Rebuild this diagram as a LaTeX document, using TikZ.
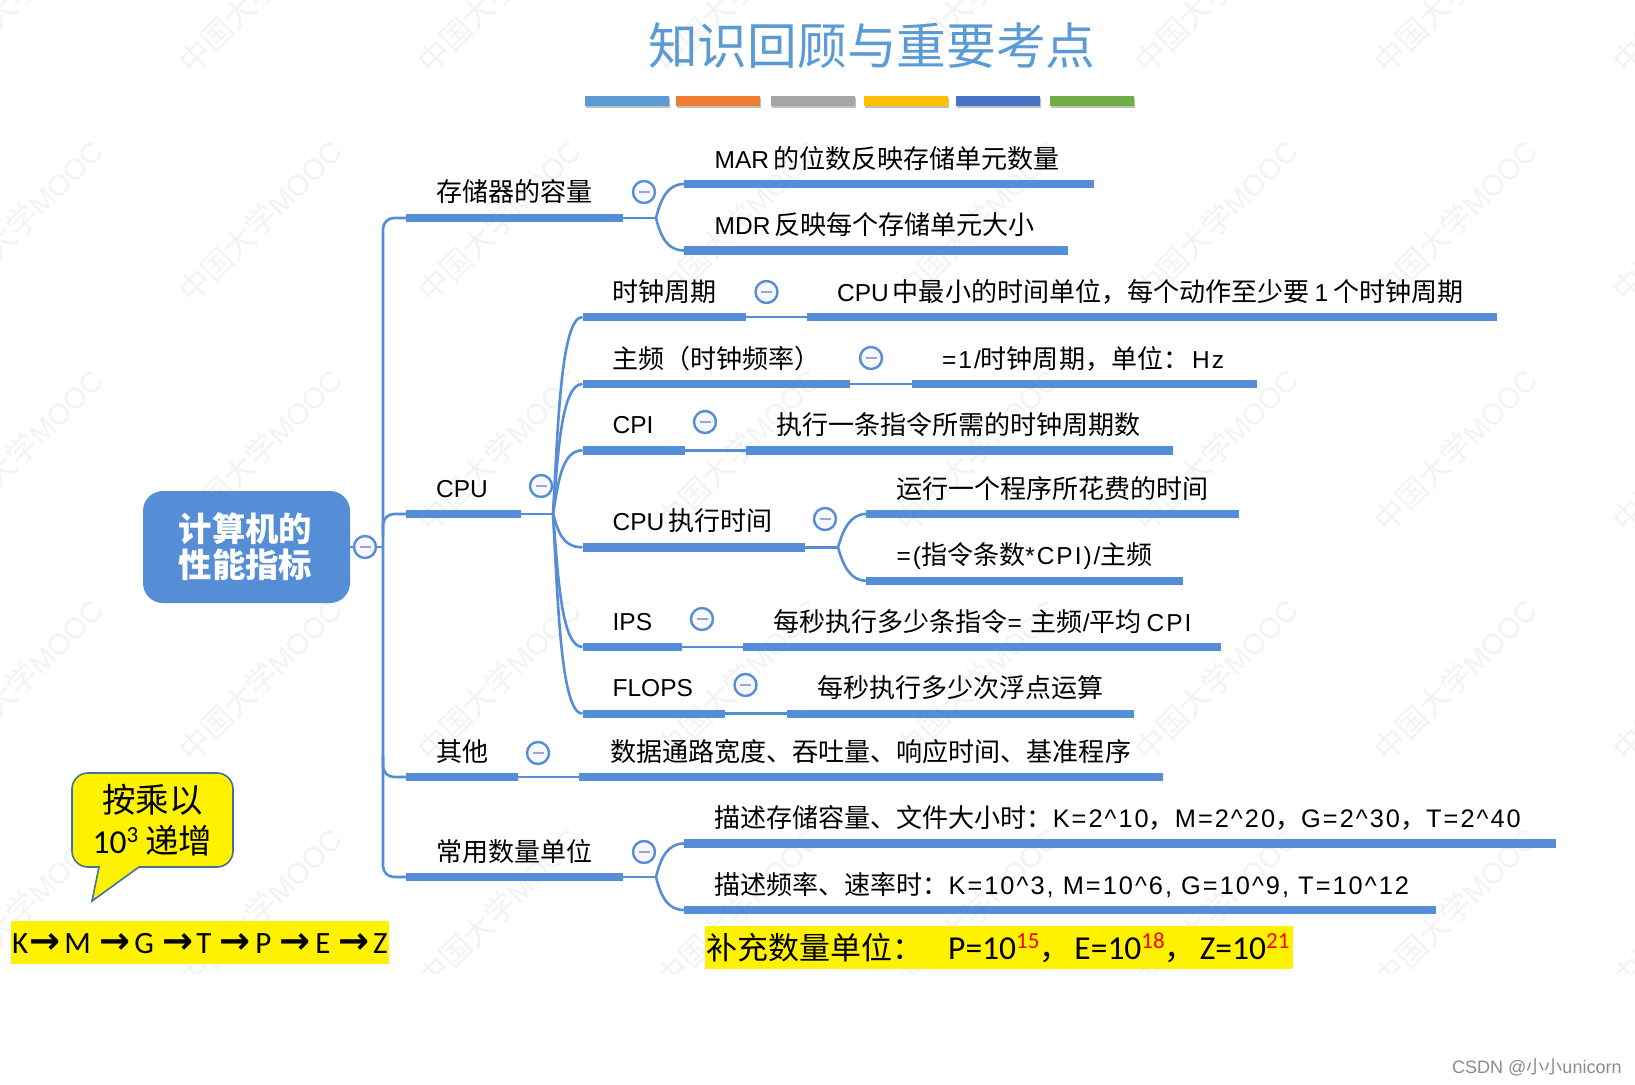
\documentclass[tikz,border=0pt]{standalone}
\usepackage{fontspec}
\setmainfont{Liberation Sans}
\newfontfamily\cjkf[Scale=1.063]{Noto Sans CJK SC}
\newfontfamily\cjkp{Noto Sans CJK SC}
\newfontfamily\carl{Carlito}
\newfontfamily\arr{DejaVu Sans}
\newfontfamily\lsp[LetterSpace=8]{Liberation Sans}
\newfontfamily\lspb[Scale=1.035,LetterSpace=8]{Liberation Sans}
\newcommand{\C}[1]{{\cjkf #1}}
\newcommand{\LS}[1]{{\lsp #1}}
\newcommand{\LB}[1]{{\lspb #1}}
\newcommand{\gp}{\hspace{4pt}}
\newcommand{\ca}{\textasciicircum}
\newcommand{\Ar}[1]{\hspace{#1pt}{\fontsize{37}{37}\selectfont\arr\bfseries →}}
\newcommand{\Gp}[1]{\hspace{#1pt}}
\newcommand{\Sp}[1]{\raisebox{11pt}{\fontsize{23}{23}\selectfont\textcolor{red}{#1}}}
\definecolor{mm}{HTML}{558DD6}
\definecolor{mark}{HTML}{9AA6D6}
\definecolor{wm}{HTML}{F3F3F3}
\definecolor{ttl}{HTML}{5B9BD5}
\definecolor{cb}{HTML}{41719C}
\tikzset{
  x=1pt,y=-1pt,
  txt/.style={anchor=base west,inner sep=0pt,font=\fontsize{24.5}{28}\selectfont,text=black},
  barn/.style={anchor=west,fill=mm,inner sep=0pt,minimum height=8.4pt,draw=none},
  link/.style={draw=mm,line width=2.6pt},
  fold/.style={circle,draw=mm,line width=2.4pt,fill=blue!3,minimum size=22pt,inner sep=0pt,
    text=mark,font=\fontsize{10}{10}\selectfont},
  deco/.style={anchor=north west,inner sep=0pt,minimum height=10pt,draw=none},
  wmk/.style={rotate=45,text=wm,inner sep=0pt,font=\fontsize{29}{29}\selectfont},
  yel/.style={anchor=north west,fill=yellow,inner sep=0pt,draw=none},
}
\newcommand{\mn}{\rule[0pt]{11pt}{2.6pt}}
\newcommand{\Barr}[4]{\pgfmathsetmacro{\wdd}{#3-#2}\node[barn,minimum width=\wdd pt] (#1) at (#2,#4) {};}
\begin{document}
\begin{tikzpicture}
\useasboundingbox (0,0) rectangle (1635,1084);
\fill[white] (0,0) rectangle (1635,1084);
% watermark
\begin{scope}
\clip (0,0) rectangle (1635,973);
\foreach \i in {-1,...,6}{\foreach \j in {-1,...,3}{
  \node[wmk] (wm\i x\j) at ({260+239*\i},{221+229.3*\j}) {\C{中国大学}MOOC};
}}
\end{scope}
% title
\node[anchor=base west,inner sep=0pt,text=ttl,font=\fontsize{49.7}{50}\selectfont] (title) at (648,64) {\cjkp 知识回顾与重要考点};
% colour strips
\foreach \a/\b/\c/\n in {585/669/5B9BD5/a,676/760/ED7D31/b,771/855/A5A5A5/c,864/948/FFC000/d,956/1040/4472C4/e,1050/1134/70AD47/f}{
  \fill[black!25] (\a+1,98) rectangle (\b+1,107.5);
  \definecolor{tmpc}{HTML}{\c}
  \pgfmathsetmacro{\wdd}{\b-\a}
  \node[deco,fill=tmpc,minimum width=\wdd pt] (strip\n) at (\a,96) {};
}
% root
\node[fill=mm,rounded corners=20pt,minimum width=207pt,minimum height=112pt,inner sep=0pt,text=white,align=center,
  font=\fontsize{33.4}{36}\selectfont\bfseries] (root) at (246.5,547) {\hspace{-2pt}\cjkp 计算机的\\[0pt]\hspace{-2pt}\cjkp 性能指标};
% coordinates on the trunk
\coordinate (t1) at (383,218);
\coordinate (tc) at (383,514);
\coordinate (tr) at (383,547);
\coordinate (to) at (383,777);
\coordinate (t4) at (383,877);
\coordinate (tc2) at (383,535);
\coordinate (to2) at (383,755);
% bars
\Barr{b1}{406}{623}{218}
\Barr{b11}{684}{1094}{184}
\Barr{b12}{684}{1068}{250.5}
\Barr{b2}{406}{521}{514}
\Barr{c1}{582.5}{745.5}{317}
\Barr{c1r}{807}{1497}{317}
\Barr{c2}{582.5}{850}{384}
\Barr{c2r}{912}{1256.5}{384}
\Barr{c3}{582.5}{684.5}{450.3}
\Barr{c3r}{746}{1172.5}{450.3}
\Barr{c4}{582.5}{804.5}{547.3}
\Barr{c41}{866}{1239}{514}
\Barr{c42}{866}{1182.5}{580.7}
\Barr{c5}{582.5}{681.5}{647}
\Barr{c5r}{743}{1221}{647}
\Barr{c6}{582.5}{725}{713.7}
\Barr{c6r}{787}{1134}{713.7}
\Barr{b3}{406}{518}{777}
\Barr{b3r}{579}{1163}{777}
\Barr{b4}{406}{623}{877}
\Barr{b41}{684}{1556}{843.5}
\Barr{b42}{684}{1436}{910}
% fork points
\coordinate (f1) at (656,218);
\coordinate (f2) at (553,514);
\coordinate (f4) at (838,547.3);
\coordinate (f5) at (656,877);
% connectors
\draw[link] (root.east) -- (tr);
\draw[link,rounded corners=11pt] (b1.west) -- (t1) -- (t4) -- (b4.west);
\draw[link,rounded corners=11pt] (b2.west) -- (tc) -- (tc2);
\draw[link,rounded corners=11pt] (b3.west) -- (to) -- (to2);
\draw[link] (b1.east) -- (f1);
\draw[link] (f1) .. controls (661,198) and (668,184) .. (b11.west);
\draw[link] (f1) .. controls (661,238) and (668,250.5) .. (b12.west);
\draw[link] (b2.east) -- (f2);
\foreach \c/\yy in {c1/317,c2/384,c3/450.3,c4/547.3,c5/647,c6/713.7}{
  \draw[link] (f2) .. controls (558,{514+(\yy-514)*0.45}) and (561,\yy) .. (\c.west);
}
\draw[link] (c1.east) -- (c1r.west);
\draw[link] (c2.east) -- (c2r.west);
\draw[link] (c3.east) -- (c3r.west);
\draw[link] (c5.east) -- (c5r.west);
\draw[link] (c6.east) -- (c6r.west);
\draw[link] (b3.east) -- (b3r.west);
\draw[link] (c4.east) -- (f4);
\draw[link] (f4) .. controls (843,530) and (850,514) .. (c41.west);
\draw[link] (f4) .. controls (843,565) and (850,580.7) .. (c42.west);
\draw[link] (b4.east) -- (f5);
\draw[link] (f5) .. controls (661,857) and (668,843.5) .. (b41.west);
\draw[link] (f5) .. controls (661,897) and (668,910) .. (b42.west);
% fold buttons
\node[fold] (k0) at (365,547) {\mn};
\node[fold] (k1) at (644,192) {\mn};
\node[fold] (k2) at (541,486) {\mn};
\node[fold] (k21) at (766.5,292) {\mn};
\node[fold] (k22) at (871,358) {\mn};
\node[fold] (k23) at (705,422) {\mn};
\node[fold] (k24) at (825,519) {\mn};
\node[fold] (k25) at (702,619) {\mn};
\node[fold] (k26) at (745.5,685) {\mn};
\node[fold] (k3) at (538,753) {\mn};
\node[fold] (k4) at (644,852) {\mn};
% texts
\node[txt] (n1) at (436,201) {\C{存储器的容量}};
\node[txt] (n11) at (714.5,168) {MAR\gp\C{的位数反映存储单元数量}};
\node[txt] (n12) at (714.5,234.5) {MDR\gp\C{反映每个存储单元大小}};
\node[txt] (n2) at (436,497) {CPU};
\node[txt] (n21) at (612.4,301) {\C{时钟周期}};
\node[txt] (n21r) at (837,301) {CPU\gp\C{中最小的时间单位，每个动作至少要}\hspace{5pt}1\hspace{5pt}\C{个时钟周期}};
\node[txt] (n22) at (612.4,368) {\C{主频（时钟频率）}};
\node[txt] (n22r) at (942,368) {\LS{=1/}\C{时钟周期，单位：}\hspace{3pt}\LS{Hz}};
\node[txt] (n23) at (612.4,433.3) {CPI};
\node[txt] (n23r) at (776,434) {\C{执行一条指令所需的时钟周期数}};
\node[txt] (n24) at (612.4,530.5) {CPU\gp\C{执行时间}};
\node[txt] (n241) at (896,498) {\C{运行一个程序所花费的时间}};
\node[txt] (n242) at (896.5,564.5) {\LS{=(}\C{指令条数}\LS{*CPI)/}\C{主频}};
\node[txt] (n25) at (612.4,630.3) {IPS};
\node[txt] (n25r) at (773,631) {\C{每秒执行多少条指令}\LS{= }\C{主频}\LS{/}\C{平均}\gp\hspace{1pt}\LS{CPI}};
\node[txt] (n26) at (612.4,696.8) {FLOPS};
\node[txt] (n26r) at (817,697.5) {\C{每秒执行多少次浮点运算}};
\node[txt] (n3) at (436,761) {\C{其他}};
\node[txt] (n3r) at (610,761) {\C{数据通路宽度、吞吐量、响应时间、基准程序}};
\node[txt] (n4) at (436,861) {\C{常用数量单位}};
\node[txt] (n41) at (714,827.5) {\C{描述存储容量、文件大小时：}\LB{K=2\ca10}\C{，}\LB{M=2\ca20}\C{，}\LB{G=2\ca30}\C{，}\LB{T=2\ca40}};
\node[txt] (n42) at (714,894) {\C{描述频率、速率时：}\LB{K=10\ca3, M=10\ca6, G=10\ca9, T=10\ca12}};
% callout
\draw[fill=yellow,draw=cb,line width=1.6pt,line join=miter]
  (99,867) -- (92,901) -- (139,867) [rounded corners=16pt] -- (233,867) -- (233,773) -- (72,773) -- (72,867) [sharp corners] -- cycle;
\node[anchor=base west,inner sep=0pt,font=\fontsize{33.5}{33.5}\selectfont] (call1) at (102,812) {\cjkp 按乘以};
\node[anchor=base west,inner sep=0pt,font=\fontsize{33.5}{33.5}\selectfont] (call2) at (92.5,853) {\carl 10\raisebox{11pt}{\fontsize{23}{23}\selectfont 3}\Gp{7}{\cjkp 递增}};
% K M G band
\node[yel,minimum width=378pt,minimum height=43pt] (band1) at (11,921) {};
\node[anchor=base west,inner sep=0pt,font=\fontsize{31}{31}\selectfont\carl] (seq) at (12,953)
 {K\Ar{1.5}\Gp{3.5}M\Ar{9}\Gp{3.5}G\Ar{9}\Gp{2.5}T\Ar{8.5}\Gp{4.5}P\Ar{8}\Gp{5}E\Ar{8}\Gp{3.5}Z};
\node[yel,minimum width=588pt,minimum height=43pt] (band2) at (705,926) {};
\node[anchor=base west,inner sep=0pt,font=\fontsize{33.5}{33.5}\selectfont\carl] (supp) at (706,959)
 {{\cjkp\fontsize{31}{31}\selectfont 补充数量单位：}\Gp{25}P=10\Sp{15}{\cjkp\fontsize{31}{31}\selectfont ，}\Gp{4}E=10\Sp{18}{\cjkp\fontsize{31}{31}\selectfont ，}\Gp{4}Z=10\Sp{21}};
% signature
\node[anchor=base west,inner sep=0pt,text=black!45,font=\fontsize{18}{18}\selectfont] (sig) at (1452,1073) {CSDN @{\cjkp 小小}unicorn};
\end{tikzpicture}
\end{document}
